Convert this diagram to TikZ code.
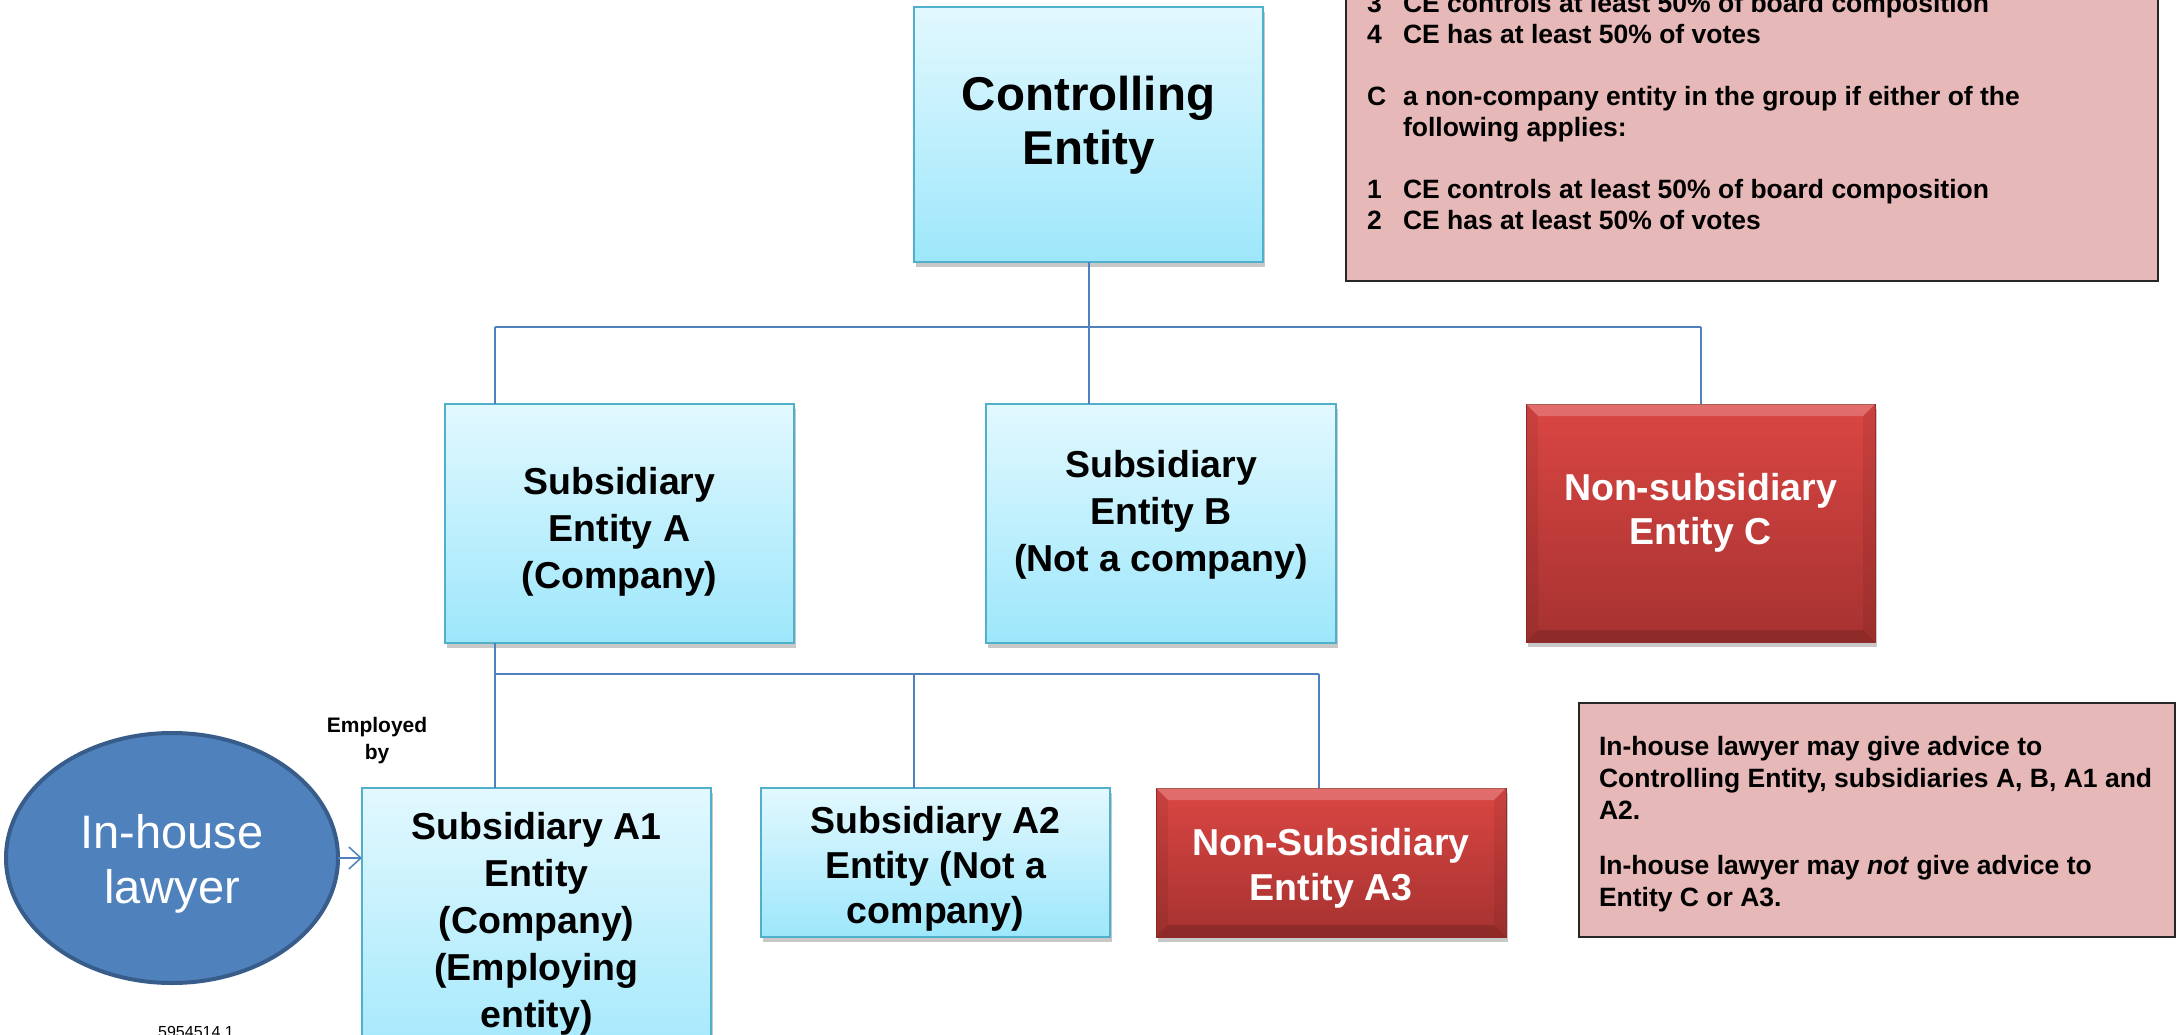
\documentclass[tikz,border=0pt]{standalone}
\usepackage{fontspec}
\setmainfont{Liberation Sans}
\usetikzlibrary{shapes.geometric,arrows.meta,shadows}
\definecolor{connblue}{RGB}{79,129,189}
\definecolor{boxedge}{RGB}{80,176,204}
\definecolor{bluetop}{RGB}{226,248,254}
\definecolor{bluebot}{RGB}{157,231,251}
\definecolor{redtop}{RGB}{218,70,67}
\definecolor{redbot}{RGB}{166,50,48}
\definecolor{rededge}{RGB}{150,45,43}
\definecolor{pinkfill}{RGB}{230,184,183}
\definecolor{lawfill}{RGB}{79,129,189}
\definecolor{lawedge}{RGB}{56,93,138}
\newcommand\ctab[1]{\begin{tabular}[t]{@{}c@{}}#1\end{tabular}}
\newcommand\ltab[1]{\begin{tabular}[t]{@{}l@{}}#1\end{tabular}}
\newcommand\fCE{\fontsize{47.5}{54}\selectfont\bfseries}
\newcommand\fBoxA{\fontsize{37.5}{47}\selectfont\bfseries}
\newcommand\fBoxB{\fontsize{37.5}{45}\selectfont\bfseries}
\newcommand\fBoxC{\fontsize{37.5}{44}\selectfont\bfseries}
\newcommand\fNote{\fontsize{26.5}{31}\selectfont\bfseries}
\newcommand\fNoteB{\fontsize{26.5}{32}\selectfont\bfseries}
\newcommand\fLaw{\fontsize{47}{55}\selectfont}
\newcommand\fEmp{\fontsize{21}{27}\selectfont\bfseries}
\newcommand\fNum{\fontsize{16}{19}\selectfont}
\begin{document}
\begin{tikzpicture}[x=1pt,y=-1pt,
  conn/.style={draw=connblue,line width=2pt},
  shadowed/.style={drop shadow={shadow xshift=2pt,shadow yshift=-5pt,opacity=.3,fill=black!70}},
  bluebox/.style={draw=boxedge,line width=2.5pt,top color=bluetop,bottom color=bluebot,
    inner sep=0pt,outer sep=0pt,shadowed},
  redbox/.style={draw=rededge,line width=1pt,top color=redtop,bottom color=redbot,
    inner sep=0pt,outer sep=0pt,shadowed},
  pinkbox/.style={draw=black!85,line width=2pt,fill=pinkfill,inner sep=0pt,outer sep=0pt},
  lawshape/.style={ellipse,draw=lawedge,line width=4pt,fill=lawfill,inner sep=0pt,outer sep=0pt},
  lbl/.style={anchor=base,inner sep=0pt,outer sep=0pt},
  lblw/.style={anchor=base west,inner sep=0pt,outer sep=0pt},
  bevlight/.style={fill=white,opacity=.22},
  bevdark/.style={fill=black,opacity=.15}]
\useasboundingbox (0,0) rectangle (2177,1035);
\fill[white] (0,0) rectangle (2177,1035);

% boxes
\node[pinkbox,minimum width=812pt,minimum height=292pt] (top) at (1752,135) {};
\node[pinkbox,minimum width=596pt,minimum height=234pt] (note) at (1877,820) {};

\node[bluebox,minimum width=349pt,minimum height=255pt] (CE) at (1088.5,134.5) {};
\node[bluebox,minimum width=349pt,minimum height=239pt] (A) at (619.5,523.5) {};
\node[bluebox,minimum width=350pt,minimum height=239pt] (B) at (1161,523.5) {};
\node[redbox,minimum width=349pt,minimum height=238pt] (C) at (1700.5,523) {};
\node[bluebox,minimum width=349pt,minimum height=300pt] (A1) at (536.5,938) {};
\node[bluebox,minimum width=349pt,minimum height=149pt] (A2) at (935.5,862.5) {};
\node[redbox,minimum width=350pt,minimum height=149pt] (A3) at (1331,862.5) {};
\node[lawshape,minimum width=332pt,minimum height=250pt] (law) at (172,858) {};

% bevels on red boxes
\foreach \b in {C,A3}{
  \fill[bevlight] (\b.north west) -- (\b.north east) -- ([shift={(-12pt,-12pt)}]\b.north east) -- ([shift={(12pt,-12pt)}]\b.north west) -- cycle;
  \fill[bevdark] (\b.south west) -- (\b.south east) -- ([shift={(-12pt,12pt)}]\b.south east) -- ([shift={(12pt,12pt)}]\b.south west) -- cycle;
  \fill[black,opacity=.07] (\b.north west) -- ([shift={(12pt,-12pt)}]\b.north west) -- ([shift={(12pt,12pt)}]\b.south west) -- (\b.south west) -- cycle;
  \fill[black,opacity=.07] (\b.north east) -- ([shift={(-12pt,-12pt)}]\b.north east) -- ([shift={(-12pt,12pt)}]\b.south east) -- (\b.south east) -- cycle;
}

% connectors
\coordinate (busL) at (495,327);
\coordinate (busR) at (1700.5,327);
\coordinate (bus2L) at (495,674);
\coordinate (bus2M) at (914,674);
\coordinate (bus2R) at (1319,674);
\draw[conn] (CE.south) -- (CE.south |- busL);
\draw[conn] (busL) -- (busR);
\draw[conn] (busL) -- (A.north -| busL);
\draw[conn] (CE.south |- busL) -- (B.north -| CE.south);
\draw[conn] (busR) -- (C.north);
\draw[conn] (A.south -| bus2L) -- (bus2L);
\draw[conn] (bus2L) -- (bus2R);
\draw[conn] (bus2L) -- (A1.north -| bus2L);
\draw[conn] (bus2M) -- (A2.north -| bus2M);
\draw[conn] (bus2R) -- (A3.north -| bus2R);
\draw[conn,line width=1.5pt,-{Straight Barb[length=12pt,width=22pt,line width=1.5pt]}] (law.east) -- (A1.west |- law.east);

% labels
\node[lbl] (tCE) at (1088.5,111) {\fCE\ctab{Controlling\\Entity}};
\node[lbl] (tA) at (619.5,494) {\fBoxA\ctab{Subsidiary\\Entity A\\(Company)}};
\node[lbl] (tB) at (1161,477) {\fBoxA\ctab{Subsidiary\\Entity B\\(Not a company)}};
\node[lbl,text=white] (tC) at (1700.5,500) {\fBoxC\ctab{Non-subsidiary\\Entity C}};
\node[lbl] (tA1) at (536.5,839) {\fBoxA\ctab{Subsidiary A1\\Entity\\(Company)\\(Employing\\entity)}};
\node[lbl] (tA2) at (935.5,833) {\fBoxB\ctab{Subsidiary A2\\Entity (Not a\\company)}};
\node[lbl,text=white] (tA3) at (1331,855) {\fBoxB\ctab{Non-Subsidiary\\Entity A3}};
\node[lbl,text=white] (tlaw) at (172,848) {\fLaw\ctab{In-house\\lawyer}};
\node[lbl] (temp) at (377,732) {\fEmp\ctab{Employed\\by}};
\node[lbl] (tnum) at (196,1037) {\fNum 5954514.1};

\node[lblw] (ttop) at (1367,13) {\fNote\begin{tabular}[t]{@{}p{36pt}@{}l@{}}
3 & CE controls at least 50\% of board composition\\
4 & CE has at least 50\% of votes\\
 & \\
C & a non-company entity in the group if either of the\\
 & following applies:\\
 & \\
1 & CE controls at least 50\% of board composition\\
2 & CE has at least 50\% of votes
\end{tabular}};
\node[lblw] (tnote1) at (1599,755) {\fNoteB\ltab{In-house lawyer may give advice to\\Controlling Entity, subsidiaries A, B, A1 and\\A2.}};
\node[lblw] (tnote2) at (1599,874) {\fNoteB\ltab{In-house lawyer may \textit{not} give advice to\\Entity C or A3.}};
\end{tikzpicture}
\end{document}
